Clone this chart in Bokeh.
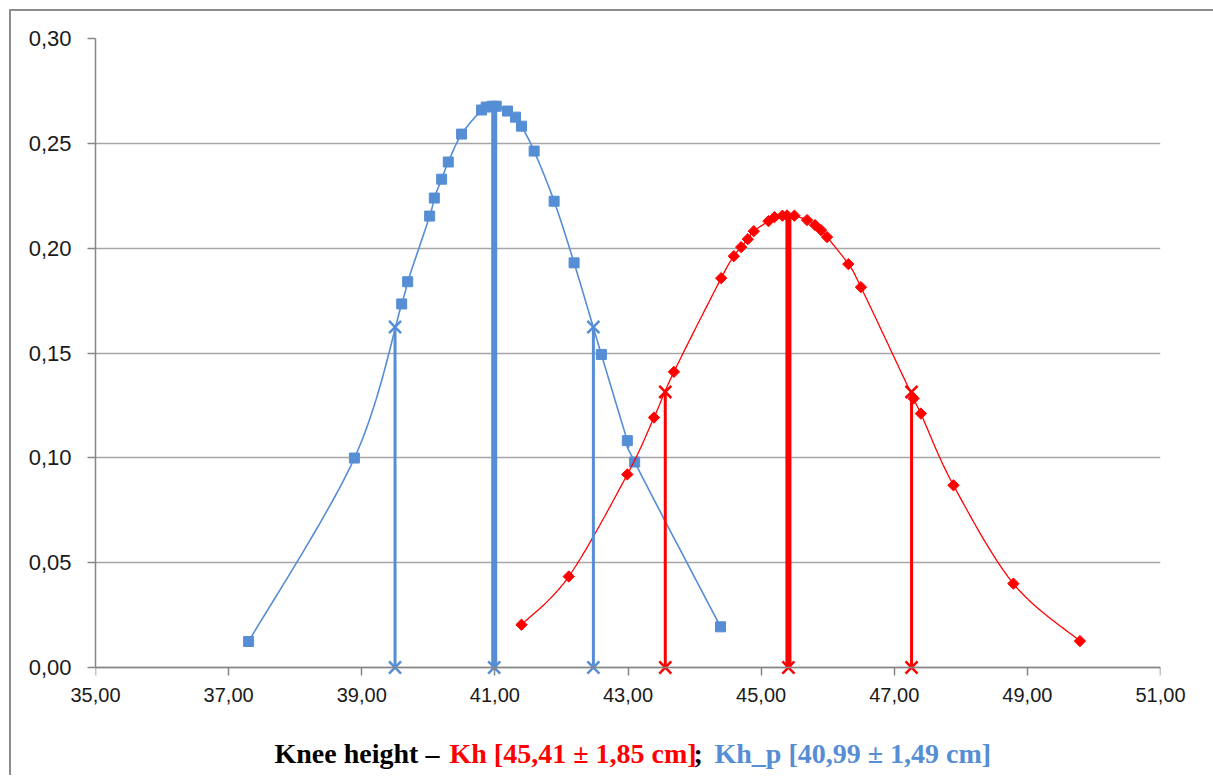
import numpy as np
from bokeh.plotting import figure
from bokeh.layouts import column
from bokeh.models import ColumnDataSource, FixedTicker, CustomJSTickFormatter, LinearAxis
from bokeh.core.properties import value
from bokeh.embed import file_html
from bokeh.resources import INLINE

# ---------------- data ----------------
x_ticks = [35, 37, 39, 41, 43, 45, 47, 49, 51]
y_ticks = [0.0, 0.05, 0.10, 0.15, 0.20, 0.25, 0.30]

# Kh_p (blue) : knee height values and their density
kh_p_x = [37.30, 38.89, 39.60, 39.69, 40.02, 40.09, 40.20, 40.30, 40.50, 40.80,
          40.87, 40.96, 41.02, 41.19, 41.31, 41.40, 41.59, 41.89, 42.19, 42.60,
          42.99, 43.10, 44.39]
kh_p_y = [0.0124, 0.0999, 0.1734, 0.1840, 0.2153, 0.2239, 0.2329, 0.2411, 0.2544, 0.2659,
          0.2673, 0.2677, 0.2677, 0.2654, 0.2625, 0.2582, 0.2463, 0.2224, 0.1930, 0.1493,
          0.1082, 0.0980, 0.0194]

# Kh (red)
kh_x = [41.40, 42.11, 42.99, 43.39, 43.69, 44.40, 44.59, 44.70, 44.80, 44.89,
        45.11, 45.20, 45.32, 45.39, 45.50, 45.69, 45.81, 45.90, 45.99, 46.31,
        46.50, 47.29, 47.40, 47.89, 48.79, 49.79]
kh_y = [0.0204, 0.0434, 0.0921, 0.1192, 0.1410, 0.1857, 0.1962, 0.2005, 0.2043, 0.2081,
        0.2129, 0.2148, 0.2155, 0.2156, 0.2155, 0.2134, 0.2110, 0.2086, 0.2053, 0.1924,
        0.1814, 0.1283, 0.1211, 0.0869, 0.0400, 0.0126]

# mean / mean ± SD markers
kh_p_mean, kh_p_sd = 40.99, 1.49
kh_p_mean_h, kh_p_sd_h = 0.2677, 0.1624
kh_mean, kh_sd = 45.41, 1.85
kh_mean_h, kh_sd_h = 0.2156, 0.1314

BLUE = "#558ED5"
RED = "#FF0000"
AXIS_GRAY = "#868686"
GRID_GRAY = "#a6a6a6"


def excel_smooth(xs, ys, n=24):
    """Excel-like smoothed line: cubic Bezier through points, tangents (P[i+1]-P[i-1])/6."""
    P = np.column_stack([xs, ys]).astype(float)
    m = len(P)
    ox, oy = [], []
    for i in range(m - 1):
        p0 = P[max(i - 1, 0)]
        p1 = P[i]
        p2 = P[i + 1]
        p3 = P[min(i + 2, m - 1)]
        c1 = p1 + (p2 - p0) / 6.0
        c2 = p2 - (p3 - p1) / 6.0
        t = np.linspace(0, 1, n, endpoint=(i == m - 2))
        b = ((1 - t) ** 3)[:, None] * p1 + (3 * (1 - t) ** 2 * t)[:, None] * c1 \
            + (3 * (1 - t) * t ** 2)[:, None] * c2 + (t ** 3)[:, None] * p2
        ox.extend(b[:, 0]); oy.extend(b[:, 1])
    return ox, oy


# layout origin inside the bordered chart area: (11, 11) on the page
W = 1202
MAIN_H = 706
CAP_H = 58
FRAME_L, FRAME_R = 95, 1160   # page x of the plot frame (caption frame is aligned to it)
Y_PAD = 0.30 * 10 / 629       # room below 0 so the markers on the axis are not cut

p = figure(width=W, height=MAIN_H, x_range=(35, 51), y_range=(-Y_PAD, 0.30),
           output_backend="svg", toolbar_location=None,
           min_border_left=84, min_border_right=53, min_border_top=27, min_border_bottom=40)
p.outline_line_color = None
p.background_fill_color = "white"
p.border_fill_color = "white"

p.xgrid.grid_line_color = None
p.ygrid.grid_line_color = GRID_GRAY
p.ygrid.grid_line_width = 1.5

fmt_js = "return tick.toFixed(2).replace('.', ',');"

for ax in (p.xaxis[0], p.yaxis[0]):
    ax.axis_line_color = AXIS_GRAY
    ax.axis_line_width = 1.5
    ax.major_tick_line_color = AXIS_GRAY
    ax.major_tick_line_width = 1.5
    ax.minor_tick_line_color = None
    ax.major_tick_in = 0
    ax.major_tick_out = 8
    ax.major_label_text_color = "#1a1a1a"
    ax.major_label_text_font = "Liberation Sans"

# x axis line and ticks sit at y = 0 (inside the frame); its labels come from the axis below
p.xaxis[0].ticker = FixedTicker(ticks=x_ticks)
p.xaxis[0].fixed_location = 0
p.xaxis[0].formatter = CustomJSTickFormatter(code="return '';")

# y axis
p.yaxis[0].ticker = FixedTicker(ticks=y_ticks)
p.yaxis[0].bounds = (0, 0.30)
p.yaxis[0].formatter = CustomJSTickFormatter(code=fmt_js)
p.yaxis[0].major_label_text_font_size = "22px"
p.yaxis[0].major_label_standoff = 16

# x tick labels (separate axis below the frame, labels only)
xlab = LinearAxis(ticker=FixedTicker(ticks=x_ticks),
                  formatter=CustomJSTickFormatter(code=fmt_js),
                  axis_line_color=None, major_tick_line_color=None,
                  minor_tick_line_color=None, major_tick_in=0, major_tick_out=0,
                  major_label_standoff=10, major_label_text_font_size="20px",
                  major_label_text_font="Liberation Sans",
                  major_label_text_color="#1a1a1a")
p.add_layout(xlab, "below")

# ---- blue series Kh_p ----
bx, by = excel_smooth(kh_p_x, kh_p_y)
p.line(bx, by, line_color=BLUE, line_width=1.6)
p.scatter(kh_p_x, kh_p_y, marker="square", size=10, fill_color=BLUE, line_color=BLUE)

# ---- red series Kh ----
rx, ry = excel_smooth(kh_x, kh_y)
p.line(rx, ry, line_color=RED, line_width=1.3)
p.scatter(kh_x, kh_y, marker="square", angle=np.pi / 4, size=8,
          fill_color=RED, line_color=RED)


def stems(mean, sd, mh, sh, color):
    for xv in (mean - sd, mean + sd):
        p.line([xv, xv], [0, sh], line_color=color, line_width=3)
        p.scatter([xv, xv], [0, sh], marker="x", size=17, line_color=color, line_width=2.5)
    p.line([mean, mean], [0, mh], line_color=color, line_width=6)
    p.scatter([mean], [0], marker="x", size=17, line_color=color, line_width=2.5)


stems(kh_p_mean, kh_p_sd, kh_p_mean_h, kh_p_sd_h, BLUE)
stems(kh_mean, kh_sd, kh_mean_h, kh_sd_h, RED)

# ---- caption (multi-coloured) in a strip below; its x range is in page pixels ----
def fmt(v):
    return f"{v:.2f}".replace(".", ",")

cap = figure(width=W, height=CAP_H, x_range=(FRAME_L, FRAME_R), y_range=(0, CAP_H),
             output_backend="svg", toolbar_location=None,
             x_axis_type=None, y_axis_type=None,
             min_border_left=84, min_border_right=53, min_border_top=0, min_border_bottom=0)
cap.outline_line_color = None
cap.xgrid.visible = False
cap.ygrid.visible = False
cap_src = ColumnDataSource(dict(
    x=[274, 449, 693, 714],
    y=[22, 22, 22, 22],
    text=["Knee height \u2013 ",
          f"Kh [{fmt(kh_mean)} \u00b1 {fmt(kh_sd)} cm]",
          ";",
          f"Kh_p [{fmt(kh_p_mean)} \u00b1 {fmt(kh_p_sd)} cm]"],
    color=["black", RED, "black", BLUE],
))
cap.text(x="x", y="y", text="text", source=cap_src, text_color="color",
         text_font=value("Liberation Serif"), text_font_style="bold",
         text_font_size="28px", text_baseline="alphabetic", text_align="left")

layout = column(p, cap, spacing=0)
layout.styles = {"margin-left": "9px", "margin-top": "9px",
                 "border-left": "2px solid #8c8c8c", "border-top": "2px solid #8c8c8c"}

open("out.html", "w").write(file_html(layout, INLINE))
